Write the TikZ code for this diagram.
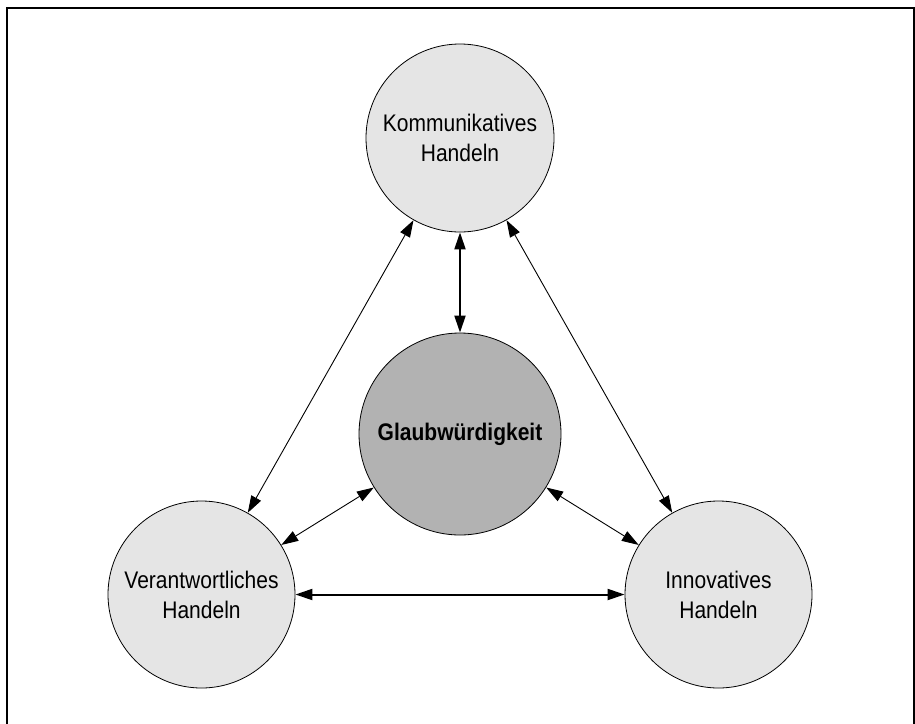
\documentclass[tikz,border=0pt]{standalone}
\usepackage{fontspec}
\setmainfont{Liberation Sans}[FakeStretch=0.875]
\usetikzlibrary{arrows.meta}
\begin{document}
\begin{tikzpicture}[x=1pt,y=-1pt,
  bubble/.style={circle,draw=black,line width=0.8pt,fill=#1,inner sep=0pt,
    align=center,font=\fontsize{24}{30}\selectfont},
  link/.style={{Triangle[length=17pt,width=11pt]}-{Triangle[length=17pt,width=11pt]},line width=0.9pt},
  boldlink/.style={link,line width=2pt}]
  \useasboundingbox (0,0) rectangle (915,723);
  % outer frame, open at the lower edge
  \draw[line width=2pt] (7,740) -- (7,8) -- (914,8) -- (914,740);

  \node[bubble=black!10,minimum size=188pt] (k) at (460,138) {Kommunikatives\\Handeln};
  \node[bubble=black!30,minimum size=202pt,font=\fontsize{24}{30}\selectfont\bfseries] (g) at (460,434) {Glaubwürdigkeit};
  \node[bubble=black!10,minimum size=187pt] (v) at (201.5,594.5) {Verantwortliches\\Handeln};
  \node[bubble=black!10,minimum size=187pt] (i) at (718.5,594.5) {Innovatives\\Handeln};

  \draw[boldlink] (k) -- (g);
  \draw[boldlink] (v) -- (i);
  \draw[link] (k) -- (v);
  \draw[link] (k) -- (i);
  \draw[link] (g) -- (v);
  \draw[link] (g) -- (i);
\end{tikzpicture}
\end{document}
